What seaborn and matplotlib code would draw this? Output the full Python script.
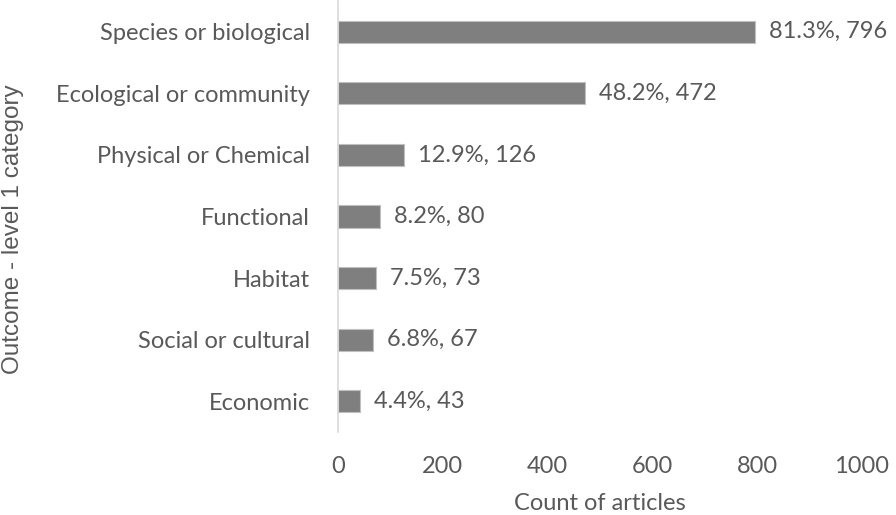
import matplotlib
matplotlib.use("Agg")
import matplotlib.pyplot as plt
import seaborn as sns
import pandas as pd

categories = ["Species or biological", "Ecological or community", "Physical or Chemical",
              "Functional", "Habitat", "Social or cultural", "Economic"]
counts = [796, 472, 126, 80, 73, 67, 43]
percents = [81.3, 48.2, 12.9, 8.2, 7.5, 6.8, 4.4]

df = pd.DataFrame({"category": categories, "count": counts, "pct": percents})

sns.set_theme(style="white")
plt.rcParams["font.family"] = ["Lato", "DejaVu Sans"]

txt = "#595959"
fs = 17

fig = plt.figure(figsize=(8.96, 5.15), dpi=100)
ax = fig.add_axes([0.377, 0.161, 0.585, 0.837])
sns.barplot(data=df, x="count", y="category", color="#7f7f7f", saturation=1,
            width=0.36, edgecolor="#bfbfbf", linewidth=0.8, ax=ax)

# value labels: "pct%, count" just right of each bar
for i, (c, p) in enumerate(zip(counts, percents)):
    ax.annotate(f"{p}%, {c}", xy=(c, i), xytext=(10, 0), textcoords="offset points",
                va="center", ha="left", fontsize=fs, color=txt)

ax.set_xlim(0, 1000)
ax.set_ylim(6.5, -0.5)
ax.set_xticks([0, 200, 400, 600, 800, 1000])
ax.tick_params(axis="both", length=0, labelsize=fs, labelcolor=txt)
ax.tick_params(axis="y", pad=20)
ax.tick_params(axis="x", pad=17)
for s in ["top", "right", "bottom"]:
    ax.spines[s].set_visible(False)
ax.spines["left"].set_color("#d9d9d9")
ax.spines["left"].set_linewidth(1.2)
ax.set_xlabel("Count of articles", fontsize=fs, color=txt, labelpad=12)
ax.set_ylabel("")
fig.text(0.015, 0.555, "Outcome - level 1 category", rotation=90, va="center", ha="center",
         fontsize=17.5, color=txt, family=["Liberation Sans", "DejaVu Sans"])

fig.savefig("out.png", dpi=100)
